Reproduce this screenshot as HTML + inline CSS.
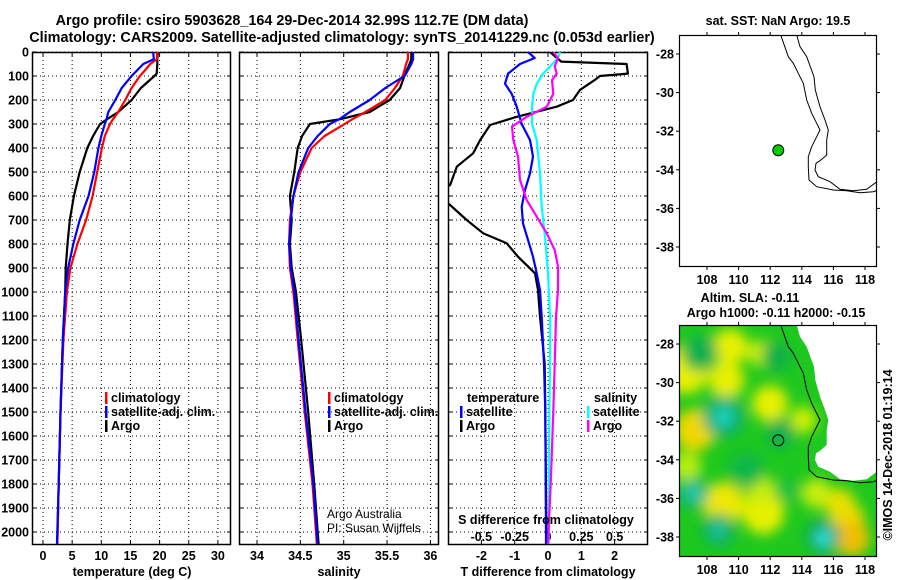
<!DOCTYPE html>
<html><head><meta charset="utf-8">
<style>
html,body{margin:0;padding:0;background:#fff;}
svg{display:block;font-family:"Liberation Sans",Arial,sans-serif;}
.b{font-weight:bold;font-size:12.5px;}
.t{font-weight:bold;font-size:14.4px;}
</style></head>
<body>
<svg id="c" width="900" height="580" viewBox="0 0 900 580" xmlns="http://www.w3.org/2000/svg">
<defs>
<clipPath id="cp1"><rect x="32" y="52" width="199" height="493"/></clipPath>
<clipPath id="cp2"><rect x="239" y="52" width="200" height="493"/></clipPath>
<clipPath id="cp3"><rect x="448" y="52" width="200" height="493"/></clipPath>
<clipPath id="cpm1"><rect x="679" y="35" width="198" height="232"/></clipPath>
<clipPath id="cpm2"><rect x="679" y="325" width="198" height="232"/></clipPath>
<filter id="blur" x="-20%" y="-20%" width="140%" height="140%"><feGaussianBlur stdDeviation="6.5"/></filter>
</defs>
<text class="t" x="292" y="25" text-anchor="middle">Argo profile: csiro 5903628_164 29-Dec-2014 32.99S 112.7E (DM data)</text>
<text class="t" x="342" y="42" text-anchor="middle">Climatology: CARS2009. Satellite-adjusted climatology: synTS_20141229.nc (0.053d earlier)</text>
<g id="g"></g>
</svg>
<script>
// ---- data ----
const depthTicks=[0,100,200,300,400,500,600,700,800,900,1000,1100,1200,1300,1400,1500,1600,1700,1800,1900,2000];
const tempTicks=[0,5,10,15,20,25,30];
const salTicks=[34,34.5,35,35.5,36];
const salTickLabels=["34","34.5","35","35.5","36"];
const tdTicks=[-2,-1,0,1,2];
const sdTicks=[-0.5,-0.25,0,0.25,0.5];
const sdTickLabels=["-0.5","-0.25","0","0.25","0.5"];

const profDepth=[0,30,50,90,100,150,200,250,280,300,350,400,500,600,700,800,900,1000,1200,1500,1800,2000,2050];
const tempArgo=[19.7,19.6,19.6,19.5,19.1,16.8,15.2,12.9,11.0,9.8,8.6,7.6,6.3,5.3,4.6,4.2,3.9,3.8,3.4,3.0,2.7,2.5,2.45];
const tempClim=[19.6,19.5,18.4,17.0,16.6,15.2,14.1,12.9,12.0,11.5,10.6,10.1,9.3,8.5,7.4,5.9,4.7,4.1,3.5,3.0,2.7,2.5,2.45];
const tempSat=[18.9,19.0,17.2,15.6,15.2,13.5,12.4,11.2,10.9,10.6,10.0,9.5,8.8,7.8,6.3,5.2,4.3,3.8,3.4,3.0,2.7,2.45,2.4];
const salArgo=[35.78,35.78,35.76,35.71,35.7,35.65,35.53,35.3,34.96,34.61,34.52,34.47,34.43,34.38,34.4,34.38,34.4,34.45,34.51,34.59,34.66,34.7,34.71];
const salClim=[35.74,35.74,35.72,35.69,35.68,35.59,35.48,35.25,35.1,35.01,34.78,34.63,34.5,34.42,34.38,34.37,34.38,34.42,34.47,34.55,34.64,34.68,34.69];
const salSat=[35.8,35.8,35.78,35.72,35.7,35.48,35.3,35.07,34.95,34.84,34.7,34.59,34.48,34.42,34.39,34.37,34.39,34.43,34.48,34.56,34.65,34.69,34.70];

const tdArgoDepth=[0,40,50,90,100,117,158,200,228,270,304,367,422,478,554,580,620,630,700,755,797,853,922,992,1103,1300,1500,2000,2050];
const tdArgo=[0.06,0.4,2.36,2.4,1.56,1.4,0.96,0.75,0.26,-0.94,-1.74,-2.04,-2.25,-2.74,-2.94,-3.3,-3.3,-3,-2.44,-1.95,-1.24,-0.9,-0.39,-0.3,-0.24,-0.1,-0.08,-0.05,-0.05];
const tdSatDepth=[0,25,50,90,132,174,228,300,367,436,506,575,645,714,783,853,922,992,1103,1300,1500,2000,2050];
const tdSat=[-0.6,-0.4,-0.84,-1.2,-1.29,-1.09,-0.94,-0.79,-0.54,-0.45,-0.54,-0.69,-0.79,-0.75,-0.6,-0.45,-0.34,-0.24,-0.19,-0.12,-0.08,-0.06,-0.06];
const sdSatDepth=[0,25,60,90,132,174,228,300,367,506,645,783,922,1103,1300,1500,2000,2050];
const sdSat=[0.09,0.075,0.015,-0.036,-0.085,-0.11,-0.12,-0.12,-0.085,-0.06,-0.047,-0.02,0,0.015,0.015,0.01,0.005,0.005];
const sdArgoDepth=[0,25,60,90,117,174,228,270,311,367,436,533,617,686,755,825,894,992,1103,1300,1500,1800,2050];
const sdArgo=[0.04,0.075,0.05,0.065,0.03,0.04,-0.01,-0.16,-0.27,-0.26,-0.225,-0.21,-0.16,-0.085,-0.01,0.05,0.075,0.075,0.06,0.05,0.04,0.02,0.0];

const lonTicks=[108,110,112,114,116,118];
const latTicks=[-28,-30,-32,-34,-36,-38];
const argoLon=112.7, argoLat=-32.99;

// ---- helpers ----
const NS="http://www.w3.org/2000/svg";
const G=document.getElementById('g');
function el(tag,attrs,parent){const e=document.createElementNS(NS,tag);for(const k in attrs)e.setAttribute(k,attrs[k]);(parent||G).appendChild(e);return e;}
function txt(s,x,y,anchor,cls,parent){const e=el('text',{x:x,y:y,'text-anchor':anchor||'middle','class':cls||'b'},parent);e.textContent=s;return e;}
const yD=d=>52+d*0.24;
const xT=v=>43+v*5.83;
const xS=v=>257+(v-34)*86.7;
const xTD=v=>548+v*33.3;
const xSD=v=>548+v*133.3;
const pTop=52,pBot=545;

function panel(x0,x1,xticks,xf,name){
  const grid=el('g',{});
  
  
  xticks.forEach(t=>{const x=xf(t);el('line',{x1:x,x2:x,y1:pTop,y2:pBot,stroke:'#000','stroke-width':1,'stroke-dasharray':'1,3'},grid);
    el('line',{x1:x,x2:x,y1:pBot,y2:pBot-4,stroke:'#000'},grid);el('line',{x1:x,x2:x,y1:pTop,y2:pTop+4,stroke:'#000'},grid);});
  depthTicks.forEach(d=>{const y=yD(d);el('line',{x1:x0,x2:x1,y1:y,y2:y,stroke:'#000','stroke-width':1,'stroke-dasharray':'1,3'},grid);
    el('line',{x1:x0,x2:x0+4,y1:y,y2:y,stroke:'#000'},grid);el('line',{x1:x1,x2:x1-4,y1:y,y2:y,stroke:'#000'},grid);});
  const fr=el('rect',{x:x0+0.5,y:pTop+0.5,width:x1-x0-1,height:pBot-pTop-1,fill:'none',stroke:'#000','stroke-width':1.5});
  
  
}
function line(depths,vals,xf,color,clip,name,w){
  const pts=depths.map((d,i)=>xf(vals[i]).toFixed(1)+','+yD(d).toFixed(1)).join(' ');
  const p=el('polyline',{points:pts,fill:'none',stroke:color,'stroke-width':w||2.2,'clip-path':'url(#'+clip+')','stroke-linejoin':'round'});
  
  
}

panel(32,231,tempTicks,xT,'temperature-panel');
panel(239,439,salTicks,xS,'salinity-panel');
panel(448,648,tdTicks,xTD,'difference-panel');

depthTicks.forEach(d=>{const t=txt(String(d),29,yD(d)+4.5,'end');
  
  });
tempTicks.forEach(v=>{const t=txt(String(v),xT(v),560);
  
  });
salTicks.forEach((v,i)=>{const t=txt(salTickLabels[i],xS(v),560);
  
  });
tdTicks.forEach(v=>{const t=txt(String(v),xTD(v),560);
  
  });
sdTicks.forEach((v,i)=>{const t=txt(sdTickLabels[i],xSD(v),541);
  
  });

line(profDepth,tempArgo,xT,'#000','cp1','temp-argo-line');
line(profDepth,tempClim,xT,'#ff0000','cp1','temp-climatology-line');
line(profDepth,tempSat,xT,'#0000ff','cp1','temp-satellite-line');
line(profDepth,salArgo,xS,'#000','cp2','sal-argo-line');
line(profDepth,salClim,xS,'#ff0000','cp2','sal-climatology-line');
line(profDepth,salSat,xS,'#0000ff','cp2','sal-satellite-line');
line(tdArgoDepth,tdArgo,xTD,'#000','cp3','t-diff-argo-line');
line(tdSatDepth,tdSat,xTD,'#0000ff','cp3','t-diff-satellite-line');
line(sdSatDepth,sdSat,xSD,'#00ffff','cp3','s-diff-satellite-line');
line(sdArgoDepth,sdArgo,xSD,'#ff00ff','cp3','s-diff-argo-line');

function leg(x,y,color,label,name){
  const g=el('g',{});
  
  
  el('rect',{x:x,y:y-10,width:2.5,height:12,fill:color},g);
  txt(label,x+6,y,'start','b',g);
}
leg(105,402,'#ff0000','climatology','legend-climatology');
leg(105,416,'#0000ff','satellite-adj. clim.','legend-satellite-adj');
leg(105,430,'#000','Argo','legend-argo');
leg(328,402,'#ff0000','climatology','legend-sal-climatology');
leg(328,416,'#0000ff','satellite-adj. clim.','legend-sal-satellite-adj');
leg(328,430,'#000','Argo','legend-sal-argo');
txt('temperature',467,402,'start');
leg(460,416,'#0000ff','satellite','legend-t-satellite');
leg(460,430,'#000','Argo','legend-t-argo');
txt('salinity',594,402,'start');
leg(587,416,'#00ffff','satellite','legend-s-satellite');
leg(587,430,'#ff00ff','Argo','legend-s-argo');

const a1=txt('Argo Australia',327,518,'start');a1.setAttribute('class','');a1.setAttribute('font-size','12');
const a2=txt('PI: Susan Wijffels',327,532,'start');a2.setAttribute('class','');a2.setAttribute('font-size','12');
txt('S difference from climatology',546,524);
const xt1=txt('temperature (deg C)',132,576);
const xt2=txt('salinity',339,576);
const xt3=txt('T difference from climatology',548,576);

// ---- maps ----
const mLon=v=>707+(v-108)*15.8;
function mLat(y0){return v=>y0+(-28-v)*19.3;}
const isoZ=[[362,105],[385,170],[400,190],[415,220],[430,250],[440,300],[455,340],[470,370],[480,390],[470,410],[455,440],[445,470],[445,500],[447,540],[470,560],[520,570],[560,572],[600,578],[640,575],[655,570]];
const coastZ=[[410,105],[420,140],[440,170],[462,230],[466,270],[480,320],[495,360],[505,390],[500,420],[500,465],[480,482],[468,490],[465,510],[475,530],[510,545],[540,568],[580,572],[620,568],[655,542]];
function zp(p,dy){return (660+p[0]/3).toFixed(1)+','+(p[1]/3+dy).toFixed(1);}

function mapFrame(y0,name,lf){
  const g=el('g',{});
  
  
  el('rect',{x:679.5,y:y0+0.5,width:197,height:231,fill:'none',stroke:'#000','stroke-width':1.2},g);
  lonTicks.forEach(v=>{const x=mLon(v);el('line',{x1:x,x2:x,y1:y0,y2:y0-3,stroke:'#000'},g);el('line',{x1:x,x2:x,y1:y0+232,y2:y0+235,stroke:'#000'},g);
    txt(String(v),x,y0+249,'middle','b',g);});
  latTicks.forEach(v=>{const y=lf(v);el('line',{x1:679,x2:676,y1:y,y2:y,stroke:'#000'},g);el('line',{x1:877,x2:880,y1:y,y2:y,stroke:'#000'},g);
    txt(String(v),674,y+4.5,'end','b',g);});
}

const lf1=mLat(54);
const m1=el('g',{'clip-path':'url(#cpm1)'});


el('polyline',{points:isoZ.map(p=>zp(p,0)).join(' '),fill:'none',stroke:'#000','stroke-width':1},m1);
el('polyline',{points:coastZ.map(p=>zp(p,0)).join(' '),fill:'none',stroke:'#000','stroke-width':1},m1);
const dot=el('circle',{cx:mLon(argoLon)-3,cy:lf1(argoLat),r:5.5,fill:'#00cc00',stroke:'#000','stroke-width':1});


mapFrame(35,'sst-map',lf1);
txt('sat. SST: NaN Argo: 19.5',778,25);

const lf2=mLat(344);
const m2=el('g',{'clip-path':'url(#cpm2)'});


el('rect',{x:679,y:325,width:198,height:232,fill:'#1ec81e'},m2);
const bl=el('g',{filter:'url(#blur)'},m2);
const blobs=[
 [75,240,40,'#e8f000'],[105,420,35,'#f0d800'],[210,170,30,'#e8f000'],[200,270,30,'#e8f000'],[300,190,22,'#c8ee10'],
 [330,340,30,'#e8f000'],[430,390,22,'#d0f000'],[190,640,35,'#f0e800'],[310,670,35,'#e8f000'],[300,600,25,'#c8ee10'],
 [560,690,30,'#f0d800'],[575,745,30,'#f0c000'],[80,530,25,'#b8ee10'],[470,610,25,'#c8ee10'],[540,640,25,'#e8e000'],
 [120,190,30,'#10b050'],[190,380,35,'#10b070'],[190,380,15,'#20d8c8'],[360,430,25,'#10b050'],[100,610,25,'#10b078'],
 [100,610,12,'#30d0c0'],[175,720,28,'#10b060'],[175,720,12,'#20c8b0'],[490,740,28,'#10a070'],[490,745,14,'#30e8e0'],
 [350,200,25,'#10b048'],[260,540,30,'#10b848'],[380,600,20,'#18c040']];
blobs.forEach(b=>el('circle',{cx:660+b[0]/3,cy:290+b[1]/3,r:b[2]/3*1.8,fill:b[3]},bl));
const land=coastZ.map(p=>zp(p,290)).join(' ')+' 880,'+(290+542/3).toFixed(1)+' 880,320 '+(660+410/3).toFixed(1)+',320';
el('polygon',{points:land,fill:'#fff'},m2);
el('polyline',{points:isoZ.map(p=>zp(p,290)).join(' '),fill:'none',stroke:'#000','stroke-width':1},m2);
const dot2=el('circle',{cx:mLon(argoLon)-3,cy:lf2(argoLat),r:5.5,fill:'none',stroke:'#000','stroke-width':1});


mapFrame(325,'sla-map',lf2);
txt('Altim. SLA: -0.11',750,302);
txt('Argo h1000: -0.11 h2000: -0.15',776,317);
const cr=txt('©IMOS 14-Dec-2018 01:19:14',0,0,'middle','');
cr.setAttribute('font-size','12');
cr.setAttribute('transform','translate(892,455) rotate(-90)');


</script>
</body></html>
